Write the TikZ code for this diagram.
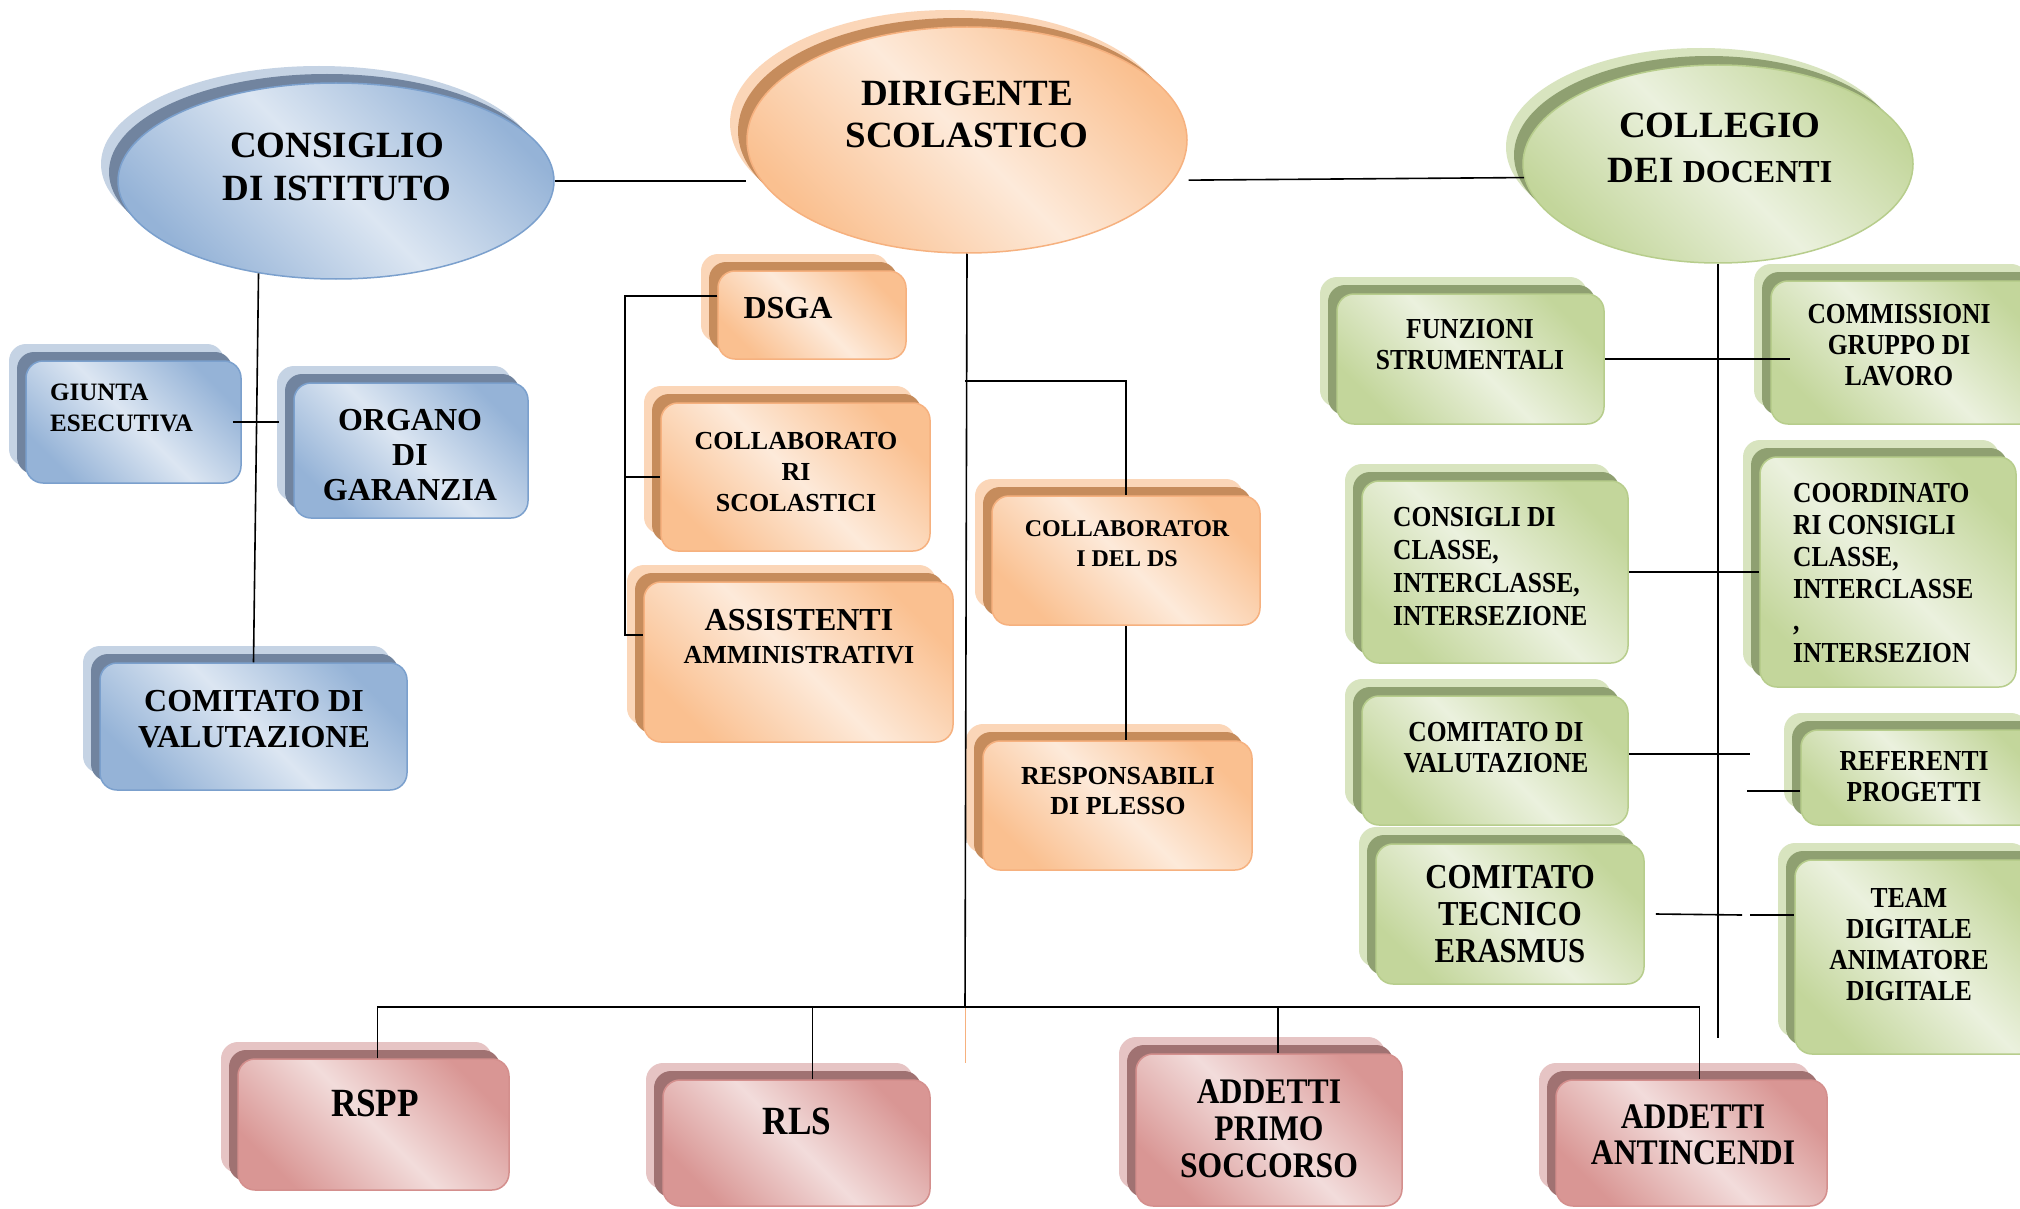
\documentclass[tikz,border=0pt]{standalone}
\usepackage{fontspec}
\setmainfont{Liberation Serif}
\newfontfamily\condf[FakeStretch=0.88]{Liberation Serif}
\usetikzlibrary{shapes.geometric,shadows,fit}
\newcommand{\myfs}[2]{\fontsize{#1}{#2}\selectfont}

\definecolor{bLight}{HTML}{DCE6F2}
\definecolor{bDark}{HTML}{95B3D7}
\definecolor{bLine}{HTML}{7BA0CD}
\definecolor{bShA}{HTML}{C5D3E4}
\definecolor{bShB}{HTML}{71849F}
\definecolor{oLight}{HTML}{FDEADA}
\definecolor{oDark}{HTML}{FAC090}
\definecolor{oLine}{HTML}{F6B17F}
\definecolor{oShA}{HTML}{FBD6B8}
\definecolor{oShB}{HTML}{C68C5C}
\definecolor{gLight}{HTML}{EBF1DE}
\definecolor{gDark}{HTML}{C3D69B}
\definecolor{gLine}{HTML}{B7CD8C}
\definecolor{gShA}{HTML}{D8E4BF}
\definecolor{gShB}{HTML}{8FA071}
\definecolor{rLight}{HTML}{F2DCDB}
\definecolor{rDark}{HTML}{D99694}
\definecolor{rLine}{HTML}{D48F8D}
\definecolor{rShA}{HTML}{E6C4C4}
\definecolor{rShB}{HTML}{A07272}

\tikzset{
  shadowed/.style 2 args={
    general shadow={shadow xshift=-17pt, shadow yshift=17pt, fill=#1},
    general shadow={shadow xshift=-9pt, shadow yshift=9pt, fill=#2}},
  paint/.style n args={5}{shadowed={#4}{#5}, draw=#3, line width=1.5pt,
    top color=#2, bottom color=#2, middle color=#1, shading angle=-45},
  bfill/.style={paint={bLight}{bDark}{bLine}{bShA}{bShB}},
  ofill/.style={paint={oLight}{oDark}{oLine}{oShA}{oShB}},
  gfill/.style={paint={gLight}{gDark}{gLine}{gShA}{gShB}},
  rfill/.style={paint={rLight}{rDark}{rLine}{rShA}{rShB}},
  panel/.style={rectangle, rounded corners=17pt, inner sep=0pt},
  ell/.style={ellipse, inner sep=0pt},
  tx/.style={inner sep=0pt, align=center, text=black},
  txl/.style={inner sep=0pt, align=left, text=black, anchor=west},
  conn/.style={line width=1.6pt, black},
}

\begin{document}
\begin{tikzpicture}[x=1pt,y=-1pt]
\useasboundingbox (0,0) rectangle (2020,1209);
\fill[white] (0,0) rectangle (2020,1209);
\clip (0,0) rectangle (2020,1209);

% ---------- ellipses ----------
\node[ell, bfill, minimum width=436pt, minimum height=196pt] (cons) at (336,181) {};
\node[ell, ofill, minimum width=440pt, minimum height=226pt] (dir) at (967,140) {};
\node[ell, gfill, minimum width=390pt, minimum height=198pt] (col) at (1718,164) {};

% ---------- blue boxes ----------
\node[panel, bfill, fit={(26,361) (241,483)}] (giunta) {};
\node[panel, bfill, fit={(294,383) (528,518)}] (organo) {};
\node[panel, bfill, fit={(100,663) (407,790)}] (cvl) {};

% ---------- orange boxes ----------
\node[panel, ofill, fit={(718,271) (906,359)}] (dsga) {};
\node[panel, ofill, fit={(661,403) (930,551)}] (coll) {};
\node[panel, ofill, fit={(644,582) (953,742)}] (ass) {};
\node[panel, ofill, fit={(992,496) (1260,625)}] (cds) {};
\node[panel, ofill, fit={(983,741) (1252,870)}] (resp) {};

% ---------- green boxes ----------
\node[panel, gfill, fit={(1337,294) (1604,424)}] (funz) {};
\node[panel, gfill, fit={(1771,281) (2045,424)}] (comm) {};
\node[panel, gfill, fit={(1362,481) (1628,663)}] (consigli) {};
\node[panel, gfill, fit={(1760,457) (2016,687)}] (coord) {};
\node[panel, gfill, fit={(1362,696) (1628,825)}] (cvr) {};
\node[panel, gfill, fit={(1801,730) (2045,825)}] (ref) {};
\node[panel, gfill, fit={(1376,844) (1644,984)}] (eras) {};
\node[panel, gfill, fit={(1795,860) (2045,1054)}] (team) {};

% ---------- red boxes ----------
\node[panel, rfill, fit={(238,1059) (509,1190)}] (rspp) {};
\node[panel, rfill, fit={(663,1080) (930,1206)}] (rls) {};
\node[panel, rfill, fit={(1136,1054) (1402,1206)}] (primo) {};
\node[panel, rfill, fit={(1556,1080) (1827,1206)}] (ant) {};

% ---------- texts ----------
\node[tx, font=\bfseries\myfs{37}{43}] (consT) at (337,167) {CONSIGLIO\\DI ISTITUTO};
\node[tx, font=\bfseries\myfs{37}{42}] (dirT) at (967,114) {DIRIGENTE\\SCOLASTICO};
\node[tx, font=\bfseries\myfs{37}{45}] (colT) at (1720,148) {COLLEGIO\\DEI {\myfs{32}{45}DOCENTI}};

\node[txl, font=\bfseries\myfs{25}{31}] (giuntaT) at (50,408) {GIUNTA\\ESECUTIVA};
\begin{scope}
\clip (294,383) rectangle (528,500);
\node[tx, font=\bfseries\myfs{32}{35}] (organoT) at (410,455) {ORGANO\\DI\\GARANZIA};
\end{scope}
\node[tx, font=\bfseries\myfs{32}{36}] (cvlT) at (254,719) {COMITATO DI\\VALUTAZIONE};

\node[tx, font=\bfseries\myfs{32}{36}] (dsgaT) at (788,308) {DSGA};
\node[tx, font=\bfseries\myfs{26}{31}] (collT) at (796,472) {COLLABORATO\\RI\\SCOLASTICI};
\node[tx, font=\bfseries\myfs{26}{33}] (assT) at (799,637) {{\myfs{32}{33}ASSISTENTI}\\AMMINISTRATIVI};
\node[tx, font=\bfseries\myfs{24}{30}] (cdsT) at (1127,544) {COLLABORATOR\\I DEL DS};
\node[tx, font=\bfseries\myfs{26}{30}] (respT) at (1118,791) {RESPONSABILI\\DI PLESSO};

\node[tx, font=\condf\bfseries\myfs{29}{31}] (funzT) at (1470,345) {FUNZIONI\\STRUMENTALI};
\node[tx, font=\condf\bfseries\myfs{29}{31}] (commT) at (1899,345) {COMMISSIONI\\GRUPPO DI\\LAVORO};
\node[txl, font=\condf\bfseries\myfs{29}{33}] (consigliT) at (1393,567) {CONSIGLI DI\\CLASSE,\\INTERCLASSE,\\INTERSEZIONE};
\node[txl, font=\condf\bfseries\myfs{29}{32}] (coordT) at (1793,573) {COORDINATO\\RI CONSIGLI\\CLASSE,\\INTERCLASSE\\,\\INTERSEZION};
\node[tx, font=\condf\bfseries\myfs{29}{31}] (cvrT) at (1496,748) {COMITATO DI\\VALUTAZIONE};
\node[tx, font=\condf\bfseries\myfs{29}{31}] (refT) at (1914,777) {REFERENTI\\PROGETTI};
\node[tx, font=\condf\bfseries\myfs{35}{37}] (erasT) at (1510,914) {COMITATO\\TECNICO\\ERASMUS};
\node[tx, font=\condf\bfseries\myfs{29}{31}] (teamT) at (1909,945) {TEAM\\DIGITALE\\ANIMATORE\\DIGITALE};

\node[tx, font=\condf\bfseries\myfs{40}{40}] (rsppT) at (375,1103) {RSPP};
\node[tx, font=\condf\bfseries\myfs{40}{40}] (rlsT) at (797,1121) {RLS};
\node[tx, font=\condf\bfseries\myfs{36}{37}] (primoT) at (1269,1129) {ADDETTI\\PRIMO\\SOCCORSO};
\node[tx, font=\condf\bfseries\myfs{36}{36}] (antT) at (1693,1135) {ADDETTI\\ANTINCENDI};

% ---------- helper coordinates ----------
\coordinate (bus) at (965,1007);
\coordinate (tail) at (965,1063);
\coordinate (j1) at (965,381);
\coordinate (bt) at (625,296);
\coordinate (bb) at (625,635);
\coordinate (colend) at (1721,1038);
\coordinate (r1) at (1750,754);
\coordinate (r2) at (1747,791);
\coordinate (e1) at (1742,915);
\coordinate (e2) at (1750,915);

% ---------- connectors ----------
\draw[conn] (cons.east) -- (cons.east -| dir.west);
\draw[conn] ([xshift=15pt]dir.-11) -- (col.184);
\draw[conn] (cons.230) -- (cvl.north);
\draw[conn] ([xshift=-9pt]giunta.east) -- ([xshift=-14pt]giunta.east -| organo.west);

\draw[conn] (dir.south) -- (bus);
\draw[oLine, line width=1pt] (bus) -- (tail);
\draw[conn] (j1) -| (cds.north);
\draw[conn] (cds.south) -- (cds.south |- resp.north);

\draw[conn] (dsga.west |- bt) -- (bt) -- (bb) -- (bb -| ass.west);
\draw[conn] (bt |- coll.west) -- (coll.west);

\draw[conn] ([xshift=4pt]rspp.north) |- (bus) -| ([xshift=8pt]ant.north);
\draw[conn] ([xshift=16pt]rls.north) -- ([xshift=16pt]rls.north |- bus);
\draw[conn] ([xshift=9pt]primo.north) -- ([xshift=9pt]primo.north |- bus);

\draw[conn] (col.south) -- (col.south |- colend);
\draw[conn] (funz.east) -- ([xshift=20pt]funz.east -| comm.west);
\draw[conn] (consigli.east) -- (consigli.east -| coord.west);
\draw[conn] (cvr.east |- r1) -- (r1);
\draw[conn] (r2) -- (r2 -| ref.west);
\draw[conn] ([xshift=11pt]eras.east) -- (e1);
\draw[conn] (e2) -- (e2 -| team.west);
\end{tikzpicture}
\end{document}
